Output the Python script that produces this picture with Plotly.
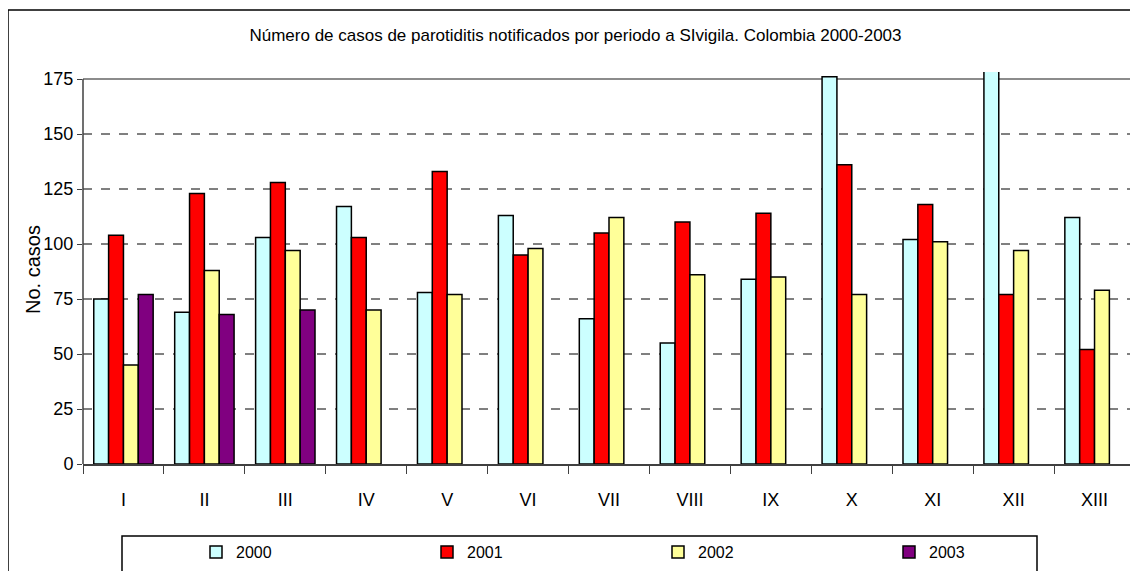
import plotly.graph_objects as go

periods = ["I", "II", "III", "IV", "V", "VI", "VII", "VIII", "IX", "X", "XI", "XII", "XIII"]
cases_2000 = [75, 69, 103, 117, 78, 113, 66, 55, 84, 176, 102, 200, 112]
cases_2001 = [104, 123, 128, 103, 133, 95, 105, 110, 114, 136, 118, 77, 52]
cases_2002 = [45, 88, 97, 70, 77, 98, 112, 86, 85, 77, 101, 97, 79]
cases_2003 = [77, 68, 70, None, None, None, None, None, None, None, None, None, None]
years = ["2000", "2001", "2002", "2003"]
colors = ["#CCFFFF", "#FF0000", "#FFFF99", "#800080"]
y_ticks = [0, 25, 50, 75, 100, 125, 150, 175]

FONT = "Liberation Sans, Arial"

# page body has an 8px margin: size the figure so it fits the window without scrollbars
OFF = 8
W = 1138 - OFF
H = 571 - OFF
L = 83 - OFF           # plot left (figure px)
TOP = 72 - OFF         # plot top (figure px)
BOT = 464 - OFF        # plot bottom (figure px)
PW = 1052
PH = BOT - TOP


def px_x(sx):
    return (sx - OFF - L) / PW


def px_y(sy):
    return (BOT - (sy - OFF)) / PH


fig = go.Figure()
for name, vals, col in zip(years, [cases_2000, cases_2001, cases_2002, cases_2003], colors):
    fig.add_trace(go.Bar(
        x=periods, y=vals, name=name,
        marker=dict(color=col, line=dict(color="black", width=1.5)),
        cliponaxis=True,
    ))

fig.update_layout(
    width=W, height=H,
    margin=dict(l=L, r=W - L - PW, t=TOP, b=H - BOT, autoexpand=False),
    paper_bgcolor="white", plot_bgcolor="white",
    barmode="group", bargap=0.266, bargroupgap=0,
    title=dict(
        text="Número de casos de parotiditis notificados por periodo a SIvigila. Colombia 2000-2003",
        font=dict(family=FONT, size=17, color="black"),
        xref="paper", x=px_x(575.5), xanchor="center",
        yref="container", y=1 - (35 - OFF) / H, yanchor="middle",
    ),
    xaxis=dict(
        showgrid=False, showline=True, linecolor="#404040", linewidth=1.5,
        ticks="outside", ticklen=8, tickcolor="#404040", tickson="boundaries",
        tickfont=dict(family=FONT, size=18, color="black"),
        ticklabelstandoff=19,
    ),
    yaxis=dict(
        range=[0, PH / 2.2], tickmode="array",
        tickvals=y_ticks, ticktext=[str(v) for v in y_ticks],
        showgrid=False, showline=False, zeroline=False,
        ticks="outside", ticklen=5, tickcolor="#404040",
        tickfont=dict(family=FONT, size=18, color="black"),
    ),
    showlegend=True,
    legend=dict(
        orientation="h", x=px_x(196), xanchor="left",
        y=px_y(552), yanchor="middle",
        entrywidth=186, entrywidthmode="pixels",
        font=dict(family=FONT, size=16, color="black"),
        bgcolor="rgba(0,0,0,0)", borderwidth=0,
        itemwidth=30,
    ),
)

# dashed gridlines (except the top, which is the plot-area border)
for v in y_ticks[1:-1]:
    fig.add_shape(type="line", xref="x domain", yref="y", x0=0, x1=1, y0=v, y1=v,
                  line=dict(color="black", width=1, dash="dash"), layer="below")

# plot-area borders: top & right gray, left axis dark
fig.add_shape(type="line", xref="x domain", yref="y", x0=0, x1=1, y0=175, y1=175,
              line=dict(color="#8c8c8c", width=2), layer="below")
fig.add_shape(type="line", xref="x domain", yref="y", x0=1, x1=1, y0=0, y1=175,
              line=dict(color="#8c8c8c", width=2), layer="below")
fig.add_shape(type="line", xref="x domain", yref="y", x0=0, x1=0, y0=0, y1=175,
              line=dict(color="#404040", width=1.5), layer="above")

# outer chart frame (only top and left edges are visible in the reference)
fig.add_shape(type="line", xref="paper", yref="paper",
              x0=px_x(8), x1=px_x(1160), y0=px_y(10), y1=px_y(10),
              line=dict(color="black", width=1.5))
fig.add_shape(type="line", xref="paper", yref="paper",
              x0=px_x(8), x1=px_x(8), y0=px_y(10), y1=px_y(600),
              line=dict(color="black", width=1.5))
# legend box
fig.add_shape(type="rect", xref="paper", yref="paper",
              x0=px_x(122), x1=px_x(1037), y0=px_y(600), y1=px_y(536),
              line=dict(color="black", width=1.5))

fig.add_annotation(text="No. casos", textangle=-90, showarrow=False,
                   xref="paper", yref="paper", x=px_x(33), y=px_y(270),
                   xanchor="center", yanchor="middle",
                   font=dict(family=FONT, size=20, color="black"))

fig.write_html("out.html")
